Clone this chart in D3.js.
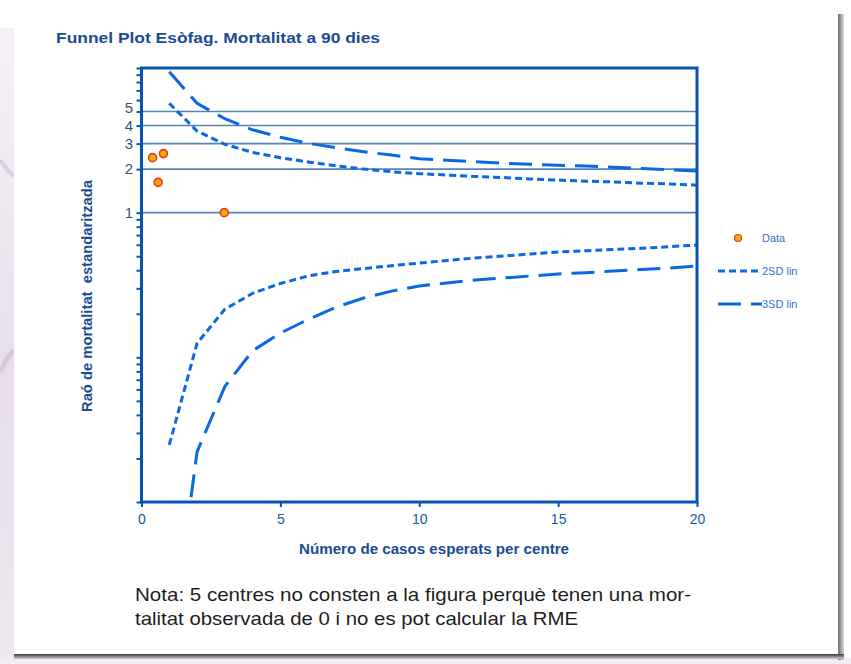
<!DOCTYPE html>
<html>
<head>
<meta charset="utf-8">
<script src="https://cdn.jsdelivr.net/npm/d3@7/dist/d3.min.js"></script>
<style>
  html, body { margin: 0; padding: 0; background: #ffffff; }
  svg { display: block; }
</style>
</head>
<body>
<script>
// Funnel plot: standardised mortality ratio against expected cases per centre
const expected = [1, 2, 3, 4, 5, 6, 7, 8, 9, 10, 11, 12, 13, 14, 15, 16, 17, 18, 19, 20];
const upper2SD = [5.70, 3.67, 2.97, 2.61, 2.40, 2.24, 2.11, 2.00, 1.92, 1.86, 1.82, 1.78, 1.75, 1.71, 1.68, 1.65, 1.63, 1.60, 1.58, 1.55];
const upper3SD = [9.43, 5.70, 4.46, 3.74, 3.32, 3.02, 2.81, 2.64, 2.50, 2.36, 2.30, 2.25, 2.20, 2.16, 2.13, 2.10, 2.06, 2.02, 1.98, 1.94];
const lower2SD = [0.0248, 0.125, 0.215, 0.277, 0.324, 0.365, 0.392, 0.411, 0.430, 0.448, 0.467, 0.486, 0.501, 0.518, 0.535, 0.546, 0.557, 0.567, 0.582, 0.597];
const lower3SD = [0.0008, 0.0222, 0.0628, 0.111, 0.147, 0.183, 0.222, 0.257, 0.287, 0.311, 0.327, 0.342, 0.353, 0.365, 0.377, 0.385, 0.395, 0.405, 0.414, 0.428];

// Observed centres
const centreExpected = [0.40, 0.79, 0.60, 2.98];
const centreSMR = [2.40, 2.56, 1.62, 1.00];

// Axis ticks
const xTicks = [0, 5, 10, 15, 20];
const yLabelled = [1, 2, 3, 4, 5];
const yMinorTicks = [0.01, 0.02, 0.03, 0.04, 0.05, 0.06, 0.07, 0.08, 0.09,
  0.1, 0.2, 0.3, 0.4, 0.5, 0.6, 0.7, 0.8, 0.9,
  1, 2, 3, 4, 5, 6, 7, 8, 9, 10];

const legendItems = ["Data", "2SD lin", "3SD lin"];

const W = 851, H = 664;
const plot = { left: 141.5, right: 697, top: 68, bottom: 502 };

const navy = "#1b4c91";
const frameBlue = "#0753b2";
const curveBlue = "#0a68e0";
const gridBlue = "#5783b8";

const svg = d3.select("body").append("svg")
  .attr("width", W).attr("height", H);

// ---- page backdrop and card ----
const defs = svg.append("defs");
const bgGrad = defs.append("linearGradient").attr("id", "bgGrad")
  .attr("x1", 0).attr("x2", 0).attr("y1", 0).attr("y2", 1);
bgGrad.append("stop").attr("offset", "0%").attr("stop-color", "#f6f1f7");
bgGrad.append("stop").attr("offset", "55%").attr("stop-color", "#e8dcec");
bgGrad.append("stop").attr("offset", "100%").attr("stop-color", "#eee6f0");

svg.append("rect").attr("x", 0).attr("y", 0).attr("width", W).attr("height", H).attr("fill", "#ffffff");
svg.append("rect").attr("x", 0).attr("y", 28).attr("width", 14).attr("height", H - 28).attr("fill", "url(#bgGrad)");
svg.append("rect").attr("x", 0).attr("y", 658).attr("width", W).attr("height", 6).attr("fill", "#f1ecf3");
// soft swooshes on the left strip
svg.append("path").attr("d", "M0,160 Q8,172 14,176").attr("stroke", "#ddcde2").attr("stroke-width", 4).attr("fill", "none");
svg.append("path").attr("d", "M0,372 Q8,356 14,350").attr("stroke", "#d8c6de").attr("stroke-width", 5).attr("fill", "none");

// card shadow (right and bottom)
const shR = defs.append("linearGradient").attr("id", "shR").attr("x1", 0).attr("x2", 1).attr("y1", 0).attr("y2", 0);
shR.append("stop").attr("offset", "0%").attr("stop-color", "#6b6b6b");
shR.append("stop").attr("offset", "100%").attr("stop-color", "#dadada");
const shB = defs.append("linearGradient").attr("id", "shB").attr("x1", 0).attr("x2", 0).attr("y1", 0).attr("y2", 1);
shB.append("stop").attr("offset", "0%").attr("stop-color", "#3a3a3a");
shB.append("stop").attr("offset", "100%").attr("stop-color", "#d0d0d0");
svg.append("rect").attr("x", 838).attr("y", 14).attr("width", 6).attr("height", 646).attr("fill", "url(#shR)");
svg.append("rect").attr("x", 14).attr("y", 654).attr("width", 830).attr("height", 5).attr("fill", "url(#shB)");
svg.append("rect").attr("x", 14).attr("y", 0).attr("width", 824).attr("height", 654).attr("fill", "#ffffff");

// ---- scales ----
const x = d3.scaleLinear().domain([0, 20]).range([plot.left, plot.right]);
const y = d3.scaleLog().domain([0.01, 10]).range([plot.bottom, plot.top]);

// ---- title ----
svg.append("text")
  .attr("x", 56).attr("y", 43)
  .attr("font-family", "Liberation Sans, Arial, sans-serif")
  .attr("font-weight", "bold").attr("font-size", 14)
  .attr("fill", navy)
  .attr("textLength", 324).attr("lengthAdjust", "spacingAndGlyphs")
  .text("Funnel Plot Esòfag. Mortalitat a 90 dies");

// ---- gridlines ----
svg.append("g").selectAll("line").data(yLabelled).join("line")
  .attr("x1", plot.left).attr("x2", plot.right)
  .attr("y1", d => y(d)).attr("y2", d => y(d))
  .attr("stroke", gridBlue).attr("stroke-width", 1.6);

// ---- axes ----
const yAxis = d3.axisLeft(y).tickValues(yMinorTicks).tickSize(5).tickFormat(() => "");
const gy = svg.append("g").attr("transform", `translate(${plot.left},0)`).call(yAxis);
gy.select(".domain").remove();
gy.selectAll(".tick line").attr("stroke", frameBlue).attr("stroke-width", 2);

svg.append("g").selectAll("text").data(yLabelled).join("text")
  .attr("x", 133).attr("y", d => y(d) + (d === 5 ? 1 : 5))
  .attr("text-anchor", "end")
  .attr("font-family", "Liberation Sans, Arial, sans-serif")
  .attr("font-size", 15).attr("fill", "#3d4f78")
  .text(d => d);

const xAxis = d3.axisBottom(x).tickValues(xTicks).tickSize(5).tickPadding(7);
const gx = svg.append("g").attr("transform", `translate(0,${plot.bottom})`).call(xAxis);
gx.select(".domain").remove();
gx.selectAll(".tick line").attr("stroke", frameBlue).attr("stroke-width", 2);
gx.selectAll(".tick text")
  .attr("font-family", "Liberation Sans, Arial, sans-serif")
  .attr("font-size", 14).attr("fill", "#2158a8");

// ---- limit curves ----
defs.append("clipPath").attr("id", "plotClip").append("rect")
  .attr("x", plot.left).attr("y", plot.top)
  .attr("width", plot.right - plot.left).attr("height", plot.bottom - plot.top);

const lineGen = d3.line().x(d => x(d[0])).y(d => y(d[1]));
const curves = [
  { vals: upper2SD, dash: "7,4" },
  { vals: lower2SD, dash: "7,4" },
  { vals: upper3SD, dash: "23,10" },
  { vals: lower3SD, dash: "23,10" }
];
const gc = svg.append("g").attr("clip-path", "url(#plotClip)");
gc.selectAll("path").data(curves).join("path")
  .attr("d", c => lineGen(expected.map((e, i) => [e, c.vals[i]])))
  .attr("fill", "none").attr("stroke", curveBlue)
  .attr("stroke-width", 3).attr("stroke-dasharray", c => c.dash);

// ---- plot frame ----
svg.append("rect")
  .attr("x", plot.left).attr("y", plot.top)
  .attr("width", plot.right - plot.left).attr("height", plot.bottom - plot.top)
  .attr("fill", "none").attr("stroke", frameBlue).attr("stroke-width", 3);

// ---- centres ----
svg.append("g").selectAll("circle").data(centreExpected).join("circle")
  .attr("cx", d => x(d)).attr("cy", (d, i) => y(centreSMR[i]))
  .attr("r", 4).attr("fill", "#ffa41a").attr("stroke", "#e0420a").attr("stroke-width", 1.6);

// ---- axis titles ----
svg.append("text")
  .attr("x", 434).attr("y", 554).attr("text-anchor", "middle")
  .attr("font-family", "Liberation Sans, Arial, sans-serif")
  .attr("font-weight", "bold").attr("font-size", 14).attr("fill", navy)
  .attr("textLength", 270).attr("lengthAdjust", "spacingAndGlyphs")
  .text("Número de casos esperats per centre");

svg.append("text")
  .attr("transform", "translate(92,296) rotate(-90)")
  .attr("text-anchor", "middle")
  .attr("font-family", "Liberation Sans, Arial, sans-serif")
  .attr("font-weight", "bold").attr("font-size", 14).attr("fill", navy)
  .attr("textLength", 232).attr("lengthAdjust", "spacingAndGlyphs")
  .style("white-space", "pre")
  .text("Raó de mortalitat  estandaritzada");

// ---- legend ----
const lg = svg.append("g");
const legendY = [238, 271, 304];
lg.append("circle").attr("cx", 738).attr("cy", legendY[0]).attr("r", 3.5)
  .attr("fill", "#ffa41a").attr("stroke", "#e0420a").attr("stroke-width", 1.2);
lg.append("line").attr("x1", 718).attr("x2", 762).attr("y1", legendY[1]).attr("y2", legendY[1])
  .attr("stroke", curveBlue).attr("stroke-width", 3).attr("stroke-dasharray", "7,4");
lg.append("line").attr("x1", 718).attr("x2", 762).attr("y1", legendY[2]).attr("y2", legendY[2])
  .attr("stroke", curveBlue).attr("stroke-width", 3).attr("stroke-dasharray", "23,10");
lg.selectAll("text").data(legendItems).join("text")
  .attr("x", 762).attr("y", (d, i) => legendY[i] + 4)
  .attr("font-family", "Liberation Sans, Arial, sans-serif")
  .attr("font-size", 11).attr("fill", "#3a6fc4")
  .text(d => d);

// ---- footnote ----
const note = [
  { t: "Nota: 5 centres no consten a la figura perquè tenen una mor-", w: 556 },
  { t: "talitat observada de 0 i no es pot calcular la RME", w: 443 }
];
svg.append("g").selectAll("text").data(note).join("text")
  .attr("x", 135).attr("y", (d, i) => 601 + i * 24)
  .attr("font-family", "Liberation Sans Narrow, Liberation Sans, Arial, sans-serif")
  .attr("font-size", 19).attr("fill", "#1e1e1e")
  .attr("textLength", d => d.w).attr("lengthAdjust", "spacingAndGlyphs")
  .text(d => d.t);
</script>
</body>
</html>
